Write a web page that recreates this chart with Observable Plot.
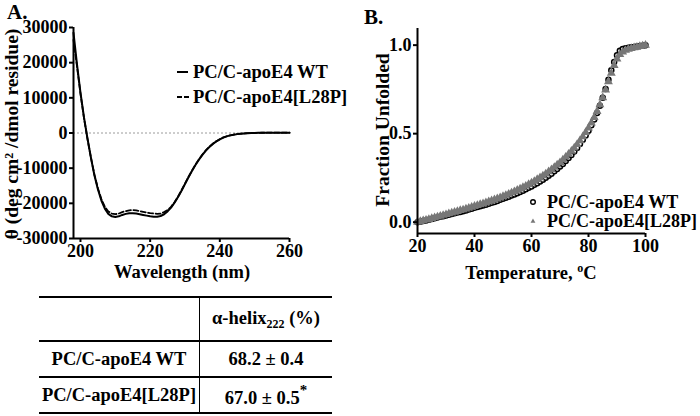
<!DOCTYPE html>
<html>
<head>
<meta charset="utf-8">
<script src="https://cdn.jsdelivr.net/npm/d3@7"></script>
<script src="https://cdn.jsdelivr.net/npm/@observablehq/plot@0.6"></script>
<style>
  html, body { margin: 0; padding: 0; background: #fff; }
  #root { position: relative; width: 700px; height: 416px; overflow: hidden;
    font-family: "Liberation Serif", "Times New Roman", serif; font-weight: bold; color: #000; }
  .abs { position: absolute; white-space: nowrap; line-height: 1; }
  .rot { transform: translate(-50%, -50%) rotate(-90deg); }
  .lg { font-size: 18.5px; display: flex; align-items: center; height: 18px; }
  table.t { position: absolute; left: 39px; top: 296px; width: 293px; border-collapse: collapse;
    font-size: 18.5px; font-weight: bold; line-height: 1; }
  table.t td { border-top: 2px solid #000; border-bottom: 2px solid #000; text-align: center; padding: 0; }
  table.t td.l { border-right: 1.5px solid #000; width: 160px; }
  sub { font-size: 12px; vertical-align: -4px; }
</style>
</head>
<body>
<div id="root">
  <div class="abs" style="left:7px; top:2px; font-size:21px;">A.</div>
  <div class="abs" style="left:364px; top:7px; font-size:21px;">B.</div>
  <div id="pa" class="abs" style="left:0; top:0;"></div>
  <div id="pb" class="abs" style="left:350px; top:0;"></div>
  <div class="abs rot" style="left:12px; top:134px; font-size:19.5px;">θ (deg cm² /dmol residue)</div>
  <div class="abs rot" style="left:383px; top:130px; font-size:19.5px;">Fraction Unfolded</div>
  <div class="abs" style="left:182px; top:272px; transform:translate(-50%,-50%); font-size:18.5px;">Wavelength (nm)</div>
  <div class="abs" style="left:531px; top:272px; transform:translate(-50%,-50%); font-size:18.5px;">Temperature, <sup style="font-size:12px; vertical-align:7px;">o</sup>C</div>
  <div class="abs lg" style="left:177px; top:63px;">
    <svg width="16" height="18"><line x1="0" x2="11" y1="9" y2="9" stroke="#000" stroke-width="2"/></svg>PC/C-apoE4 WT</div>
  <div class="abs lg" style="left:177px; top:88px;">
    <svg width="16" height="18"><line x1="0" x2="12" y1="9" y2="9" stroke="#000" stroke-width="2" stroke-dasharray="5,2"/></svg>PC/C-apoE4[L28P]</div>
  <div class="abs lg" style="left:529px; top:193px; font-size:18px;">
    <svg width="18" height="18"><circle cx="4" cy="9" r="2.3" fill="#fff" stroke="#000" stroke-width="1.4"/></svg>PC/C-apoE4 WT</div>
  <div class="abs lg" style="left:529px; top:212px; font-size:18px;">
    <svg width="18" height="18"><path d="M4,6.5 L6.4,10.8 L1.6,10.8 Z" fill="#777"/></svg>PC/C-apoE4[L28P]</div>
  <table class="t">
    <tr style="height:44px"><td class="l"></td><td>α-helix<sub>222</sub> (%)</td></tr>
    <tr style="height:36px"><td class="l">PC/C-apoE4 WT</td><td>68.2 ± 0.4</td></tr>
    <tr style="height:36px"><td class="l">PC/C-apoE4[L28P]</td><td>67.0 ± 0.5<sup style="font-size:15px; vertical-align:9px;">*</sup></td></tr>
  </table>
</div>
<script>
// ---- Panel A: CD spectra ----
const wavelengths = [198,199,200,201,202,203,204,205,206,207,208,209,210,211,212,213,214,215,216,217,218,219,220,221,222,223,224,225,226,227,228,229,230,231,232,233,234,235,236,237,238,239,240,241,242,243,244,245,246,247,248,249,250,251,252,253,254,255,256,257,258,259,260];
const thetaWT = [28500,19500,11500,4500,-1500,-7000,-12000,-16000,-19200,-21500,-23000,-23700,-23900,-23700,-23300,-23000,-22800,-22800,-22900,-23100,-23300,-23500,-23700,-23800,-23800,-23600,-23100,-22300,-21200,-19800,-18200,-16400,-14500,-12600,-10800,-9100,-7600,-6200,-5000,-4000,-3100,-2400,-1800,-1300,-950,-680,-470,-320,-200,-110,-50,0,30,50,70,80,90,95,100,100,100,100,100];
const thetaL28P = [26500,19000,11200,4300,-1600,-7000,-11800,-15700,-18800,-21000,-22300,-22900,-23100,-22900,-22500,-22200,-22000,-21900,-22000,-22200,-22400,-22600,-22800,-22900,-23000,-22900,-22500,-21900,-21000,-19700,-18100,-16300,-14400,-12500,-10700,-9000,-7500,-6100,-4900,-3900,-3050,-2350,-1750,-1250,-920,-650,-450,-300,-190,-100,-40,0,30,50,70,80,90,95,100,100,100,100,100];
const cdTicksX = [200,220,240,260];
const cdTicksY = [-30000,-20000,-10000,0,10000,20000,30000];

// ---- Panel B: thermal unfolding ----
const temps = [20,21,22,23,24,25,26,27,28,29,30,31,32,33,34,35,36,37,38,39,40,41,42,43,44,45,46,47,48,49,50,51,52,53,54,55,56,57,58,59,60,61,62,63,64,65,66,67,68,69,70,71,72,73,74,75,76,77,78,79,80,81,82,83,84,85,86,87,88,89,90,91,92,93,94,95,96,97,98,99,100];
const fracWT = [0.000,0.003,0.006,0.010,0.014,0.018,0.022,0.026,0.030,0.034,0.038,0.042,0.046,0.050,0.054,0.058,0.062,0.066,0.071,0.076,0.081,0.085,0.090,0.094,0.099,0.104,0.109,0.114,0.120,0.126,0.132,0.138,0.144,0.150,0.157,0.164,0.171,0.178,0.186,0.194,0.202,0.211,0.220,0.230,0.240,0.251,0.262,0.274,0.287,0.300,0.314,0.329,0.345,0.362,0.380,0.399,0.419,0.441,0.465,0.490,0.517,0.547,0.580,0.617,0.658,0.703,0.752,0.805,0.858,0.905,0.943,0.968,0.978,0.982,0.985,0.988,0.990,0.992,0.995,0.997,1.000];
const fracL28P = [0.000,0.004,0.008,0.012,0.016,0.021,0.025,0.030,0.034,0.039,0.043,0.048,0.052,0.057,0.061,0.066,0.070,0.075,0.080,0.085,0.090,0.095,0.100,0.105,0.110,0.116,0.121,0.127,0.133,0.139,0.146,0.152,0.159,0.166,0.173,0.181,0.188,0.196,0.204,0.213,0.222,0.231,0.241,0.251,0.262,0.273,0.285,0.297,0.310,0.323,0.337,0.352,0.368,0.384,0.401,0.419,0.439,0.460,0.483,0.507,0.533,0.561,0.592,0.626,0.663,0.703,0.747,0.794,0.842,0.886,0.922,0.947,0.962,0.971,0.977,0.982,0.986,0.989,0.993,0.996,1.000];
const tmTicksX = [20,40,60,80,100];
const tmTicksY = [0,0.5,1.0];

const cdWT = wavelengths.map((w,i) => ({w, v: thetaWT[i]}));
const cdL = wavelengths.map((w,i) => ({w, v: thetaL28P[i]}));
const tmWT = temps.map((t,i) => ({t, f: fracWT[i]}));
const tmL = temps.map((t,i) => ({t, f: fracL28P[i]}));

const txt = {fontSize: 18, fontWeight: "bold"};
const style = {fontFamily: "'Liberation Serif', 'Times New Roman', serif", fontWeight: "bold", fontSize: "18px", color: "#000", background: "transparent", overflow: "visible"};

const plotA = Plot.plot({
  width: 345, height: 290,
  marginLeft: 73, marginRight: 56, marginTop: 27, marginBottom: 52,
  x: {domain: [198, 260]},
  y: {domain: [-30000, 30000]},
  style,
  marks: [
    Plot.ruleY([0], {stroke: "#9a9a9a", strokeWidth: 1, strokeDasharray: "2,2"}),
    Plot.line(cdL, {x: "w", y: "v", stroke: "#000", strokeWidth: 1.8, strokeDasharray: "5,2.5"}),
    Plot.line(cdWT, {x: "w", y: "v", stroke: "#000", strokeWidth: 2}),
    Plot.axisX({ticks: cdTicksX, tickSize: 4, tickPadding: 2, strokeWidth: 2, label: null, ...txt}),
    Plot.axisY({ticks: cdTicksY, tickSize: 4, tickPadding: 2, strokeWidth: 2, label: null, tickFormat: d => String(d), ...txt}),
    Plot.ruleX([198], {strokeWidth: 2}),
    Plot.ruleY([-30000], {strokeWidth: 2})
  ]
});
document.getElementById("pa").appendChild(plotA);

const plotB = Plot.plot({
  width: 350, height: 290,
  marginLeft: 67, marginRight: 55, marginTop: 28, marginBottom: 57,
  x: {domain: [20, 100]},
  y: {domain: [-0.064, 1.094]},
  style,
  marks: [
    Plot.dot(tmWT, {x: "t", y: "f", r: 2.5, stroke: "#000", fill: "#fff", strokeWidth: 1.5, symbol: "circle"}),
    Plot.dot(tmL, {x: "t", y: "f", r: 3.3, fill: "#777", stroke: "none", symbol: "triangle"}),
    Plot.axisX({ticks: tmTicksX, tickSize: 4, tickPadding: 2, strokeWidth: 2, label: null, ...txt}),
    Plot.axisY({ticks: tmTicksY, tickSize: 4, tickPadding: 2, strokeWidth: 2, label: null, tickFormat: d => d.toFixed(1), ...txt}),
    Plot.ruleX([20], {strokeWidth: 2}),
    Plot.ruleY([-0.064], {strokeWidth: 2})
  ]
});
document.getElementById("pb").appendChild(plotB);
</script>
</body>
</html>
